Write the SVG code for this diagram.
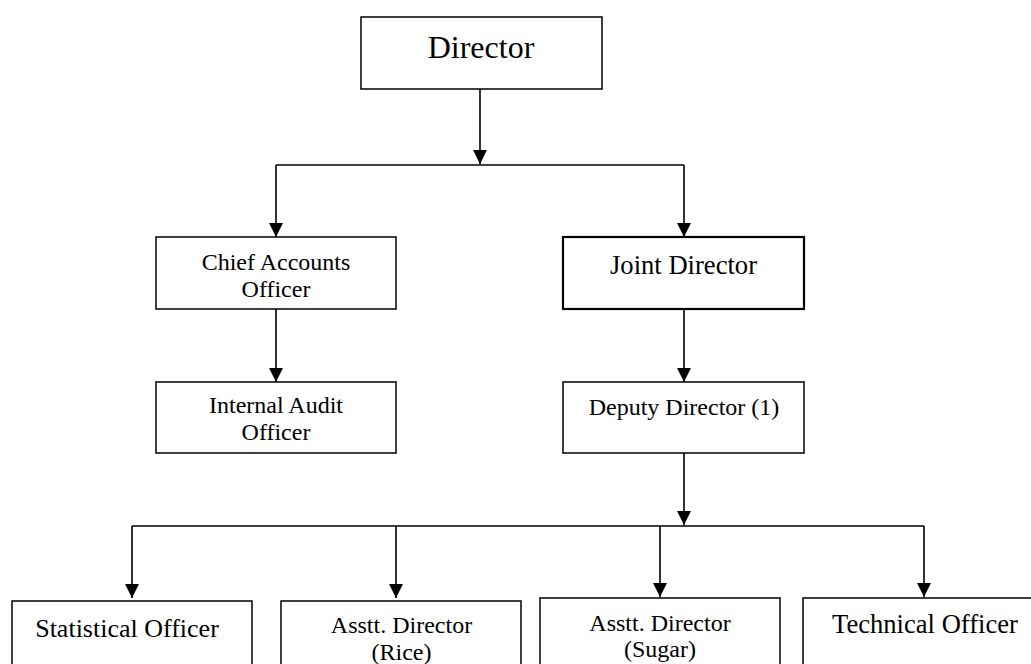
<svg xmlns="http://www.w3.org/2000/svg" width="1031" height="664" viewBox="0 0 1031 664">
  <style>
    .box { fill: #ffffff; stroke: #000000; stroke-width: 1.5; }
    .box.bold { stroke-width: 2.2; }
    .lbl { font-family: "Liberation Serif", "Times New Roman", serif; fill: #000000; text-anchor: middle; }
    .link { fill: none; stroke: #000000; stroke-width: 1.6; }
    .arrow { stroke: #000000; stroke-width: 1.6; fill: none; marker-end: url(#head); }
  </style>
  <defs>
    <marker id="head" markerUnits="userSpaceOnUse" markerWidth="15" markerHeight="15" refX="14" refY="7" orient="auto">
      <path d="M0,0 L14,7 L0,14 z" fill="#000000"/>
    </marker>
  </defs>
  <rect width="1031" height="664" fill="#ffffff"/>

  <g id="connectors">
    <line class="arrow" x1="480" y1="89" x2="480" y2="164"/>
    <path class="link" d="M276,165 H684"/>
    <line class="arrow" x1="276" y1="165" x2="276" y2="237"/>
    <line class="arrow" x1="684" y1="165" x2="684" y2="237"/>
    <line class="arrow" x1="276" y1="309" x2="276" y2="382"/>
    <line class="arrow" x1="684" y1="309" x2="684" y2="382"/>
    <line class="arrow" x1="684" y1="453" x2="684" y2="525"/>
    <path class="link" d="M132,526 H924"/>
    <line class="arrow" x1="132" y1="526" x2="132" y2="598"/>
    <line class="arrow" x1="396" y1="526" x2="396" y2="598"/>
    <line class="arrow" x1="660" y1="526" x2="660" y2="597"/>
    <line class="arrow" x1="924" y1="526" x2="924" y2="597"/>
  </g>

  <g id="director">
    <rect class="box" x="361" y="17" width="241" height="72"/>
    <text class="lbl" x="481" y="58" font-size="32">Director</text>
  </g>

  <g id="chief-accounts-officer">
    <rect class="box" x="156" y="237" width="240" height="72"/>
    <text class="lbl" x="276" y="270" font-size="24">Chief Accounts</text>
    <text class="lbl" x="276" y="297" font-size="24">Officer</text>
  </g>

  <g id="joint-director">
    <rect class="box bold" x="563" y="237" width="241" height="72"/>
    <text class="lbl" x="683.5" y="274" font-size="26.6">Joint Director</text>
  </g>

  <g id="internal-audit-officer">
    <rect class="box" x="156" y="382" width="240" height="71"/>
    <text class="lbl" x="276" y="413" font-size="24">Internal Audit</text>
    <text class="lbl" x="276" y="440" font-size="24">Officer</text>
  </g>

  <g id="deputy-director">
    <rect class="box" x="563" y="382" width="241" height="71"/>
    <text class="lbl" x="684" y="415" font-size="24">Deputy Director (1)</text>
  </g>

  <g id="statistical-officer">
    <rect class="box" x="12" y="601" width="240" height="80"/>
    <text class="lbl" x="127" y="637" font-size="26">Statistical Officer</text>
  </g>

  <g id="asstt-director-rice">
    <rect class="box" x="281" y="601" width="240" height="80"/>
    <text class="lbl" x="401.5" y="633" font-size="24">Asstt. Director</text>
    <text class="lbl" x="401.5" y="660" font-size="24">(Rice)</text>
  </g>

  <g id="asstt-director-sugar">
    <rect class="box" x="540" y="598" width="240" height="80"/>
    <text class="lbl" x="660" y="631" font-size="24">Asstt. Director</text>
    <text class="lbl" x="660" y="657" font-size="24">(Sugar)</text>
  </g>

  <g id="technical-officer">
    <rect class="box" x="803" y="598" width="245" height="80"/>
    <text class="lbl" x="925" y="633" font-size="26.6">Technical Officer</text>
  </g>
</svg>
